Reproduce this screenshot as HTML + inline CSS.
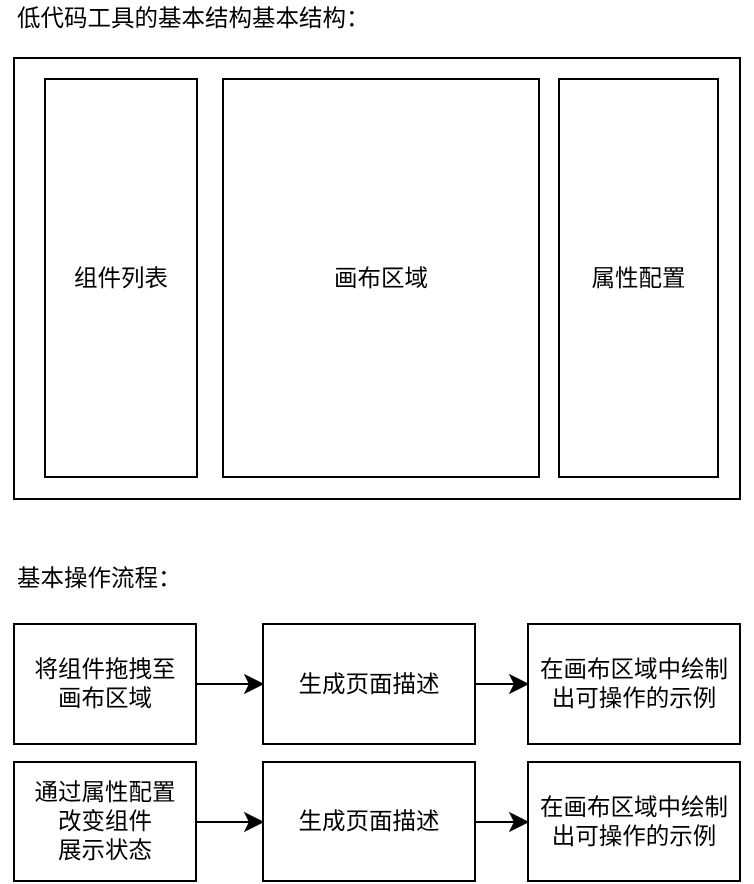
<!DOCTYPE html>
<html><head><meta charset="utf-8"><style>
body{margin:0;width:754px;height:884px;background:#fff;position:relative;font-family:"Liberation Sans","Noto Sans CJK SC",sans-serif;color:#000;overflow:hidden}
.t{position:absolute;font-size:23.5px;line-height:26px;white-space:nowrap}
.b{position:absolute;border:2px solid #000;box-sizing:border-box;display:flex;align-items:center;justify-content:center;text-align:center;font-size:23.5px;line-height:29px}
</style></head><body>
<div class="t" style="left:17px;top:5px">低代码工具的基本结构基本结构：</div>
<div class="b" style="left:13px;top:57px;width:728px;height:443px"></div>
<div class="b" style="left:44px;top:78px;width:154px;height:400px">组件列表</div>
<div class="b" style="left:222px;top:78px;width:318px;height:400px">画布区域</div>
<div class="b" style="left:558px;top:78px;width:161px;height:400px">属性配置</div>
<div class="t" style="left:17px;top:565px">基本操作流程：</div>

<div class="b" style="left:13px;top:623px;width:184px;height:122px">将组件拖拽至<br>画布区域</div>
<div class="b" style="left:262px;top:623px;width:214px;height:122px">生成页面描述</div>
<div class="b" style="left:527px;top:623px;width:214px;height:122px">在画布区域中绘制<br>出可操作的示例</div>

<div class="b" style="left:13px;top:761px;width:184px;height:121px">通过属性配置<br>改变组件<br>展示状态</div>
<div class="b" style="left:262px;top:761px;width:214px;height:121px">生成页面描述</div>
<div class="b" style="left:527px;top:761px;width:214px;height:121px">在画布区域中绘制<br>出可操作的示例</div>

<svg width="754" height="884" style="position:absolute;left:0;top:0">
<g stroke="#000" stroke-width="2" fill="#000">
<line x1="197" y1="684" x2="252" y2="684"/><path d="M262 684 L246 676 L250 684 L246 692Z"/>
<line x1="476" y1="684" x2="517" y2="684"/><path d="M527 684 L511 676 L515 684 L511 692Z"/>
<line x1="197" y1="822" x2="252" y2="822"/><path d="M262 822 L246 814 L250 822 L246 830Z"/>
<line x1="476" y1="822" x2="517" y2="822"/><path d="M527 822 L511 814 L515 822 L511 830Z"/>
</g></svg>
</body></html>
